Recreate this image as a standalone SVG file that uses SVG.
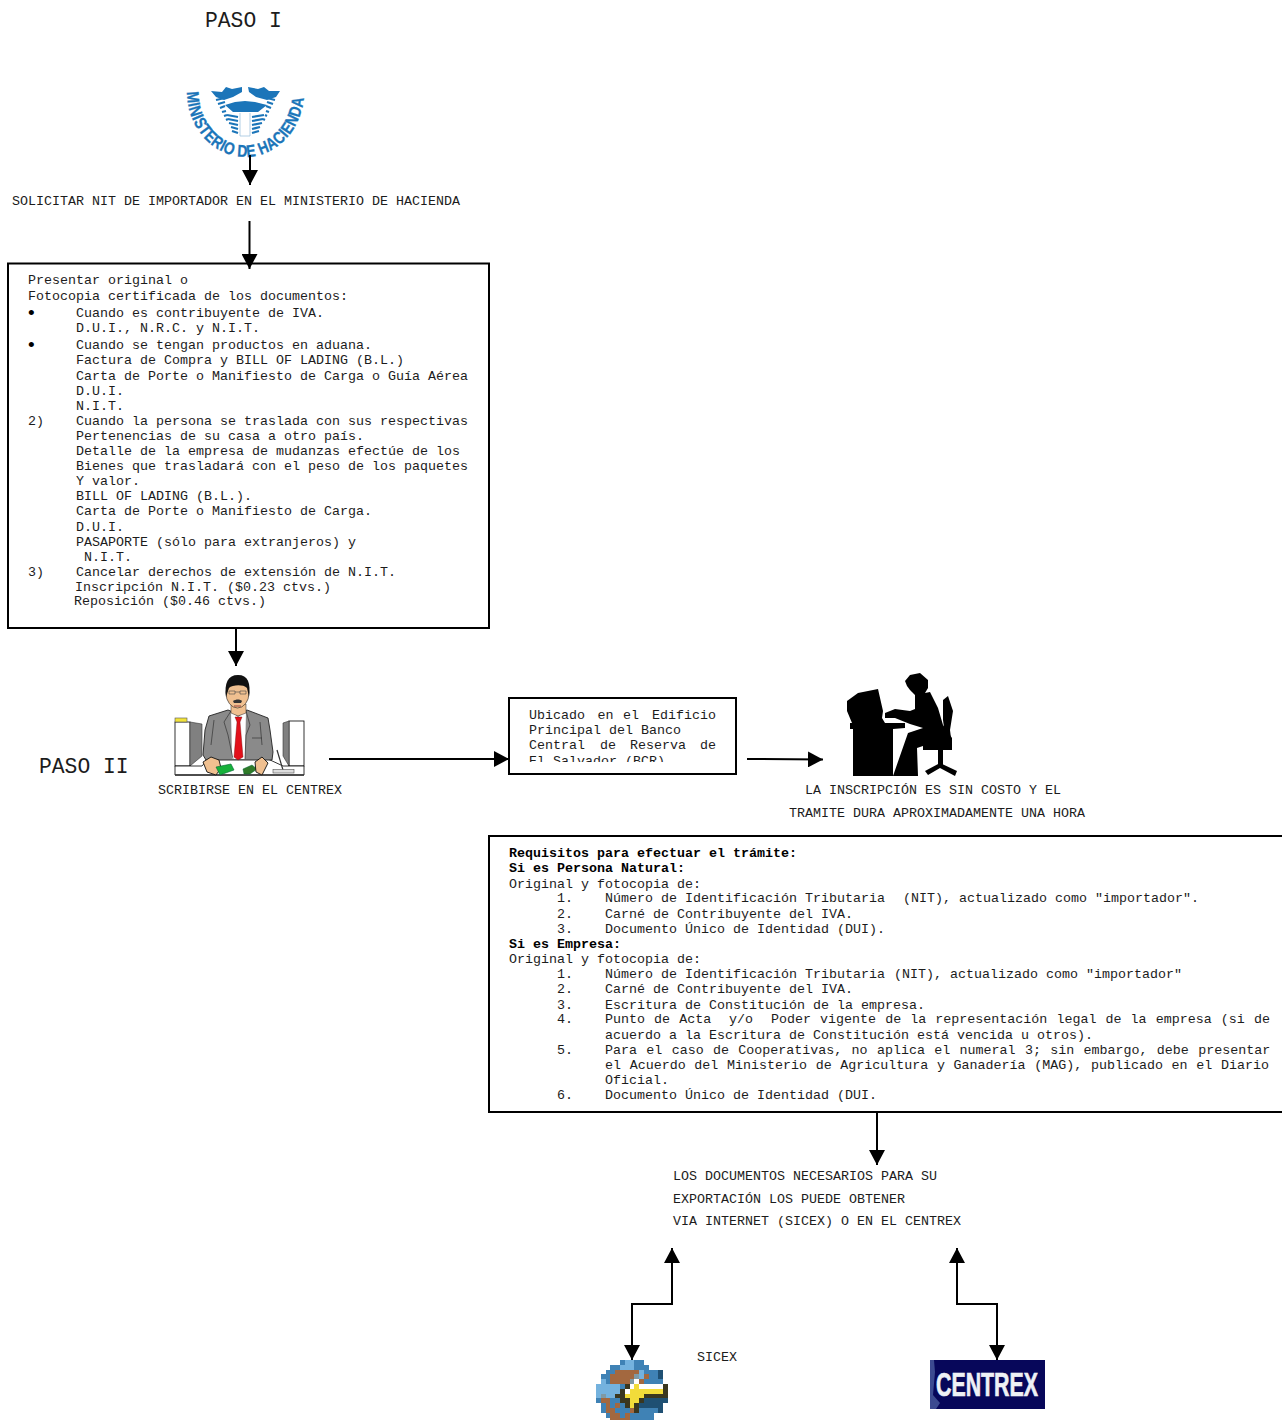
<svg xmlns="http://www.w3.org/2000/svg" width="1282" height="1420" viewBox="0 0 1282 1420">
<style>
text{font-family:"Liberation Mono","Courier New",monospace;font-size:13.33px;fill:#1c1c1c;white-space:pre}
.b{font-weight:bold;fill:#000}
.big{font-size:21.33px}
.bul{font-family:"Liberation Sans",Arial,sans-serif;font-size:19px;fill:#000}
.box{fill:#fff;stroke:#000;stroke-width:2}
.c{fill:none;stroke:#000;stroke-width:2}
.logo{fill:#1b75b9}
.ls{stroke:#1b75b9;stroke-width:2.200;fill:none}
.sil{fill:#000}
</style>
<defs>
<marker id="ah" markerUnits="userSpaceOnUse" markerWidth="16" markerHeight="16" refX="15" refY="8" orient="auto"><path d="M0,0L15,8L0,16Z" fill="#000"/></marker>
<marker id="as" markerUnits="userSpaceOnUse" markerWidth="16" markerHeight="16" refX="1" refY="8" orient="auto"><path d="M16,0L1,8L16,16Z" fill="#000"/></marker>
<clipPath id="ub"><rect x="510" y="699" width="225" height="63"/></clipPath>
<clipPath id="gb"><rect x="0" y="0" width="15" height="12.500"/></clipPath>
<path id="arc" d="M187,92A58.500,65 0 0 0 304,92"/>
</defs>

<g id="paso1"><text class="big" x="205" y="27">PASO I</text></g>

<g id="logo-hacienda">
<text style="font-family:'Liberation Sans',Arial,sans-serif;font-size:17px;font-weight:bold;letter-spacing:.4px;fill:#1b75b9;stroke:#1b75b9;stroke-width:.3"><textPath href="#arc" textLength="188" lengthAdjust="spacingAndGlyphs">MINISTERIO DE HACIENDA</textPath></text>
<path class="logo" d="M211,91L222,92L226,87L232,89L242,87L242,92L233,97L224,100L216,97ZM248,87L258,89L264,87L269,91L280,91L276,97L267,100L256,97L249,92ZM225,105L235,102L245,101L255,102L267,105L258,112L233,112Z"/>
<g class="ls">
<path d="M216,100L225,98M218,104L225,102M220,108L225,106M222,112L226,111M224,116L227,115M226,120L228,119M275,100L267,98M273,104L267,102M271,108L266,106M269,112L266,111M267,116L265,115M265,120L263,119"/>
<path d="M227,115L238,117M228,119L238,121M229,123L238,125M231,127L238,129M232,131L238,133M264,115L252,117M263,119L252,121M262,123L252,125M260,127L252,129M259,131L252,133"/>
</g>
<path d="M240,113V136H250V113" fill="none" stroke="#9fc3de" stroke-width=".8"/>
</g>

<g id="t-solicitar"><text x="12" y="205">SOLICITAR NIT DE IMPORTADOR EN EL MINISTERIO DE HACIENDA</text></g>

<g id="box-documentos">
<rect class="box" x="8" y="263.500" width="481" height="364.500"/>
<text x="28" y="284">Presentar original o</text>
<text x="28" y="300">Fotocopia certificada de los documentos:</text>
<text class="bul" x="28" y="319">•</text><text x="76" y="317">Cuando es contribuyente de IVA.</text>
<text x="76" y="332">D.U.I., N.R.C. y N.I.T.</text>
<text class="bul" x="28" y="351">•</text><text x="76" y="349">Cuando se tengan productos en aduana.</text>
<text x="76" y="364">Factura de Compra y BILL OF LADING (B.L.)</text>
<text x="76" y="380">Carta de Porte o Manifiesto de Carga o Guía Aérea</text>
<text x="76" y="395">D.U.I.</text>
<text x="76" y="410">N.I.T.</text>
<text x="28" y="425">2)</text><text x="76" y="425">Cuando la persona se traslada con sus respectivas</text>
<text x="76" y="440">Pertenencias de su casa a otro país.</text>
<text x="76" y="455">Detalle de la empresa de mudanzas efectúe de los</text>
<text x="76" y="470">Bienes que trasladará con el peso de los paquetes</text>
<text x="76" y="485">Y valor.</text>
<text x="76" y="500">BILL OF LADING (B.L.).</text>
<text x="76" y="515">Carta de Porte o Manifiesto de Carga.</text>
<text x="76" y="531">D.U.I.</text>
<text x="76" y="546">PASAPORTE (sólo para extranjeros) y</text>
<text x="84" y="561">N.I.T.</text>
<text x="28" y="576">3)</text><text x="76" y="576">Cancelar derechos de extensión de N.I.T.</text>
<text x="75" y="591">Inscripción N.I.T. ($0.23 ctvs.)</text>
<text x="74" y="605">Reposición ($0.46 ctvs.)</text>
</g>

<g id="paso2"><text class="big" x="39" y="773">PASO II</text></g>

<g id="img-ejecutivo">
<rect x="175" y="722" width="15" height="44" fill="#fff" stroke="#000" stroke-width=".8"/>
<path d="M190,722L202,724V756L190,766Z" fill="#808080" stroke="#333" stroke-width=".6"/>
<rect x="175" y="718" width="12" height="4" fill="#f2e33a" stroke="#555" stroke-width=".6"/>
<rect x="289" y="721" width="15" height="45" fill="#fff" stroke="#000" stroke-width=".8"/>
<path d="M289,721L283,723V756L289,766Z" fill="#808080" stroke="#333" stroke-width=".6"/>
<path d="M175,766L202,766L208,759H268L283,766H304V775H175Z" fill="#fff" stroke="#000" stroke-width=".8"/>
<path d="M175,775H304" stroke="#333" stroke-width="1.500"/>
<path d="M228,710L209,716L205,730L203,755L206,760H272L273,752L270,730L268,718L247,710L238,714Z" fill="#8a8a8a" stroke="#222" stroke-width=".9"/>
<path d="M231,711L238,717L246,711L245,759H232Z" fill="#fff"/>
<path d="M235,717H242L240,722L243,757L238,760L234,757L237,722Z" fill="#e2101a" stroke="#700" stroke-width=".4"/>
<path d="M231,711L224,722L228,735L233,759M246,711L250,725L246,735L245,759M214,720L211,745M260,722L262,745M252,738H262" fill="none" stroke="#333" stroke-width=".7"/>
<path d="M231,704L231,713L238,716L246,713L246,704Z" fill="#f0c090" stroke="#222" stroke-width=".5"/>
<ellipse cx="237.500" cy="693" rx="11.500" ry="15" fill="#f0c090" stroke="#222" stroke-width=".6"/>
<path d="M226,697C224,683 228,675 238,675C248,675 251,683 249,697L247,688C243,684 232,685 229,688Z" fill="#111"/>
<path d="M229,691H235V694H229ZM240,691H246V694H240ZM235,692H240" fill="none" stroke="#444" stroke-width=".6"/>
<path d="M233,701C236,699 240,699 242,701L241,703H234Z" fill="#333"/>
<path d="M234,706H241" stroke="#822" stroke-width=".8"/>
<path d="M203,762L211,757L219,760L221,768L216,775L207,772Z" fill="#f0c090" stroke="#111" stroke-width=".9"/>
<path d="M216,767L231,764L234,770L220,775Z" fill="#16b03a" stroke="#063" stroke-width=".6"/>
<path d="M243,769L252,765L257,769L250,774H244Z" fill="#2f7a28" stroke="#063" stroke-width=".5"/>
<path d="M255,762L262,757L268,763L262,775L256,772Z" fill="#f0c090" stroke="#111" stroke-width=".9"/>
<path d="M277,750L283,770" stroke="#333" stroke-width="1.200"/>
<rect x="273" y="769.500" width="21" height="3.500" fill="#ddd" stroke="#555" stroke-width=".6"/>
</g>

<g id="t-scribirse"><text x="158" y="794">SCRIBIRSE EN EL CENTREX</text></g>

<g id="box-ubicado">
<rect class="box" x="509" y="698" width="227" height="76"/>
<g clip-path="url(#ub)">
<text y="719"><tspan x="529">Ubicado</tspan><tspan x="597.500">en</tspan><tspan x="623">el</tspan><tspan x="652">Edificio</tspan></text>
<text x="529" y="734">Principal del Banco</text>
<text y="749"><tspan x="529">Central</tspan><tspan x="600">de</tspan><tspan x="630">Reserva</tspan><tspan x="700">de</tspan></text>
<text x="529" y="765">El Salvador (BCR)</text>
</g>
</g>

<g id="img-silueta" class="sil">
<path d="M850,723H905V728L893,729V776H853V729H850Z"/>
<path d="M847,701L858,693L878,689L883,711L882,718L885,723H852L847,711Z"/>
<path d="M905,681L910,675L920,673L928,680L928,688L925,693L930,692L938,708L943,725L952,738V746H923L917,748L918,776H893L908,733L923,728L910,724L895,718H885V713L895,709L910,711L915,709L915,695L910,690L907,686Z"/>
<path d="M943,700L948,696L953,711L950,730L952,746L945,735L943,720Z"/>
<path d="M923,746H952V750H923Z"/>
<rect x="938" y="750" width="5" height="17"/>
<path d="M925,771L940,763L957,771L955,776L940,768L928,775Z"/>
</g>

<g id="t-inscripcion">
<text x="805" y="794">LA INSCRIPCIÓN ES SIN COSTO Y EL</text>
<text x="789" y="817">TRAMITE DURA APROXIMADAMENTE UNA HORA</text>
</g>

<g id="box-requisitos">
<rect class="box" x="489" y="836" width="800" height="276"/>
<text class="b" x="509" y="857">Requisitos para efectuar el trámite:</text>
<text class="b" x="509" y="872">Si es Persona Natural:</text>
<text x="509" y="888">Original y fotocopia de:</text>
<text x="557" y="902">1.</text><text y="902"><tspan x="605">Número de Identificación Tributaria</tspan><tspan x="903">(NIT), actualizado como "importador".</tspan></text>
<text x="557" y="918">2.</text><text x="605" y="918">Carné de Contribuyente del IVA.</text>
<text x="557" y="933">3.</text><text x="605" y="933">Documento Único de Identidad (DUI).</text>
<text class="b" x="509" y="948">Si es Empresa:</text>
<text x="509" y="963">Original y fotocopia de:</text>
<text x="557" y="978">1.</text><text y="978"><tspan x="605">Número de Identificación Tributaria</tspan><tspan x="894">(NIT), actualizado como "importador"</tspan></text>
<text x="557" y="993">2.</text><text x="605" y="993">Carné de Contribuyente del IVA.</text>
<text x="557" y="1009">3.</text><text x="605" y="1009">Escritura de Constitución de la empresa.</text>
<text x="557" y="1023">4.</text><text y="1023" word-spacing="1.1"><tspan x="605">Punto de Acta</tspan><tspan x="729">y/o</tspan><tspan x="771">Poder vigente de la representación legal de la empresa (si de</tspan></text>
<text x="605" y="1039">acuerdo a la Escritura de Constitución está vencida u otros).</text>
<text x="557" y="1054">5.</text><text x="605" y="1054" word-spacing="1.33">Para el caso de Cooperativas, no aplica el numeral 3; sin embargo, debe presentar</text>
<text x="605" y="1069" word-spacing="0.67">el Acuerdo del Ministerio de Agricultura y Ganadería (MAG), publicado en el Diario</text>
<text x="605" y="1084">Oficial.</text>
<text x="557" y="1099">6.</text><text x="605" y="1099">Documento Único de Identidad (DUI.</text>
</g>

<g id="t-documentos">
<text x="673" y="1180">LOS DOCUMENTOS NECESARIOS PARA SU</text>
<text x="673" y="1203">EXPORTACIÓN LOS PUEDE OBTENER</text>
<text x="673" y="1225">VIA INTERNET (SICEX) O EN EL CENTREX</text>
</g>

<g id="t-sicex"><text x="697" y="1361">SICEX</text></g>

<g id="img-globo" transform="translate(596,1360) scale(4.800)" clip-path="url(#gb)" shape-rendering="crispEdges">
<path fill="#3f82b5" d="M5,0h1v1h-1zM8,0h2v1h-2zM3,1h2v1h-2zM8,1h3v1h-3zM2,2h2v1h-2zM10,2h3v1h-3zM1,3h2v1h-2zM11,3h2v1h-2zM2,4h1v1h-1zM10,4h4v1h-4zM5,5h1v1h-1zM0,8h1v1h-1zM3,8h2v1h-2zM1,9h1v1h-1zM3,9h1v1h-1zM5,9h1v1h-1zM1,10h1v1h-1zM4,10h3v1h-3zM9,10h4v1h-4zM2,11h1v1h-1zM5,11h1v1h-1zM7,11h5v1h-5zM7,12h5v1h-5z"/>
<path fill="#74b2de" d="M6,0h2v1h-2zM5,1h3v1h-3zM9,2h1v1h-1zM9,3h1v1h-1zM1,4h1v1h-1zM0,5h5v2h-5zM0,7h1v1h-1zM2,7h2v1h-2z"/>
<path fill="#a3683f" d="M4,2h5v1h-5zM3,3h5v1h-5zM10,3h1v1h-1zM3,4h4v1h-4zM9,4h1v1h-1zM1,8h2v1h-2zM2,9h1v1h-1zM4,9h1v1h-1zM2,10h2v1h-2zM7,10h1v1h-1zM3,11h2v1h-2zM6,11h1v1h-1zM3,12h4v1h-4z"/>
<path fill="#7f9aa5" d="M8,3h1v1h-1zM7,4h1v1h-1zM1,7h1v1h-1z"/>
<path fill="#1f5073" d="M13,2h1v1h-1zM13,3h1v1h-1zM10,8h5v1h-5zM9,9h5v1h-5zM13,10h1v1h-1z"/>
<path fill="#fff" d="M8,4h1v1h-1zM7,5h1v1h-1zM9,5h5v1h-5zM6,6h1v1h-1z"/>
<path fill="#f2dc3a" d="M8,5h1v1h-1zM7,6h7v1h-7zM6,7h4v1h-4zM7,8h2v1h-2zM7,9h1v1h-1z"/>
<path fill="#3a3720" d="M6,5h1v1h-1zM14,5h1v2h-1zM5,6h1v1h-1zM4,7h2v1h-2zM10,7h5v1h-5zM5,8h2v1h-2zM9,8h1v1h-1zM6,9h1v1h-1zM8,9h1v1h-1zM8,10h1v1h-1z"/>
</g>

<g id="img-centrex">
<rect x="930" y="1360" width="115" height="49" fill="#07075a"/>
<path d="M930,1360H934L935,1372L933,1395L940,1403L936,1409H930Z" fill="#3c4a90"/>
<text x="936" y="1396" textLength="102" lengthAdjust="spacingAndGlyphs" style="font-family:'Liberation Sans',Arial,sans-serif;font-size:34px;font-weight:bold;fill:#eef1f5;stroke:#eef1f5;stroke-width:.7">CENTREX</text>
</g>

<g id="connectors">
<path class="c" marker-end="url(#ah)" d="M250,155V185"/>
<path class="c" marker-end="url(#ah)" d="M249.500,221V269"/>
<path class="c" marker-end="url(#ah)" d="M236,629V666"/>
<path class="c" marker-end="url(#ah)" d="M329,759H509"/>
<path class="c" marker-end="url(#ah)" d="M747,759L823,759.500"/>
<path class="c" marker-end="url(#ah)" d="M877,1112V1165"/>
<path class="c" marker-start="url(#as)" marker-end="url(#ah)" d="M632,1360V1304H672V1248"/>
<path class="c" marker-start="url(#as)" marker-end="url(#ah)" d="M997,1360V1304H957V1248"/>
</g>
</svg>
